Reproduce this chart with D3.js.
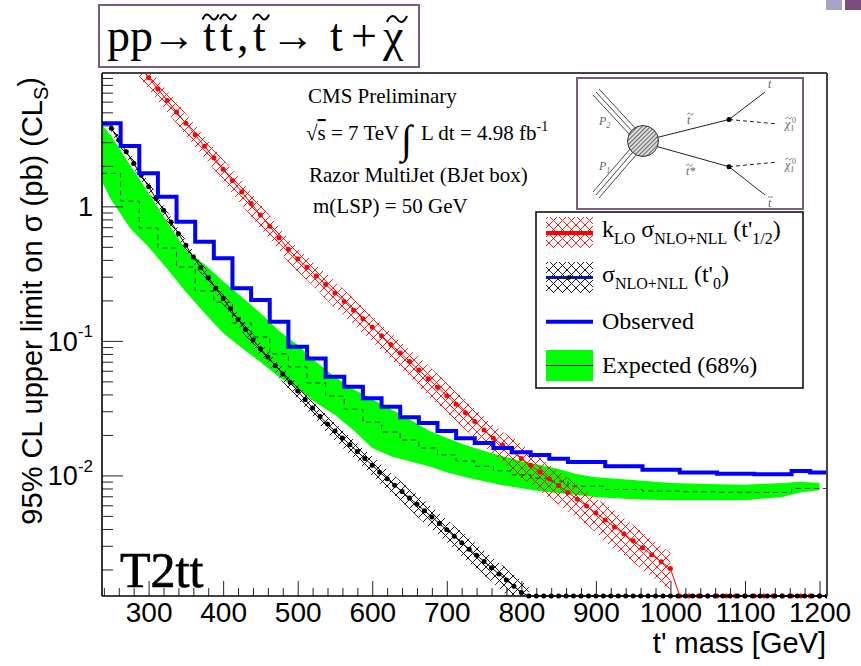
<!DOCTYPE html>
<html>
<head>
<meta charset="utf-8">
<script src="https://cdn.jsdelivr.net/npm/d3@7"></script>
<style>
body { margin: 0; background: #fff; }
svg { display: block; font-family: "Liberation Sans", Arial, sans-serif; }
.serif { font-family: "Liberation Serif", "Times New Roman", serif; }
</style>
</head>
<body>
<svg width="861" height="666"></svg>
<script>
// ---- data ----
// observed / expected limits are step histograms over these bin edges
var binEdges = [237.5, 262.5, 287.5, 312.5, 337.5, 362.5, 387.5, 412.5, 437.5, 462.5, 487.5,
  512.5, 537.5, 562.5, 587.5, 612.5, 637.5, 662.5, 687.5, 712.5, 737.5, 762.5, 787.5, 812.5,
  837.5, 862.5, 912.5, 962.5, 1012.5, 1062.5, 1112.5, 1162.5, 1187.5, 1212.5];
var observed = [4.14, 2.81, 1.76, 1.18, 0.768, 0.545, 0.411, 0.246, 0.201, 0.139, 0.0904,
  0.0741, 0.0541, 0.0456, 0.0374, 0.0324, 0.0271, 0.0245, 0.0214, 0.0189, 0.0174, 0.0160,
  0.0149, 0.0142, 0.0133, 0.0126, 0.0117, 0.0110, 0.0105, 0.0103, 0.0102, 0.0108, 0.0105];
var expected = [1.76, 1.095, 0.690, 0.490, 0.354, 0.235, 0.194, 0.136, 0.107, 0.080, 0.064,
  0.0486, 0.0389, 0.0311, 0.0249, 0.0210, 0.0183, 0.0160, 0.0142, 0.0128, 0.0117, 0.0108,
  0.0101, 0.00955, 0.00907, 0.00832, 0.00787, 0.00764, 0.00755, 0.00751, 0.00747, 0.0080, 0.0080];

// 68% expected band
var bandMass = [237.5, 250, 275, 300, 325, 350, 375, 400, 425, 450, 475, 500, 525, 550, 575,
  600, 625, 650, 675, 700, 725, 750, 775, 800, 825, 850, 875, 900, 950, 1000, 1050, 1100,
  1150, 1175, 1200];
var bandHigh = [4.02, 3.33, 2.03, 1.256, 0.766, 0.473, 0.372, 0.278, 0.2117, 0.1609, 0.1183,
  0.0931, 0.0696, 0.0538, 0.0438, 0.0369, 0.0311, 0.0262, 0.0217, 0.01894, 0.0168, 0.01516,
  0.01391, 0.01277, 0.01193, 0.01114, 0.01022, 0.00971, 0.00923, 0.00877, 0.00862, 0.00854,
  0.00877, 0.00899, 0.00877];
var bandLow = [1.516, 1.114, 0.690, 0.498, 0.342, 0.2306, 0.1609, 0.1143, 0.0884, 0.0696,
  0.0538, 0.0438, 0.0345, 0.0281, 0.0217, 0.01596, 0.01391, 0.01277, 0.01173, 0.01058,
  0.00971, 0.00907, 0.00847, 0.00804, 0.00764, 0.00739, 0.00714, 0.00690, 0.00666, 0.00655,
  0.00655, 0.00655, 0.00690, 0.00751, 0.00777];

// sigma NLO+NLL (t'_0), every 10 GeV; zero once off the table
var t0Mass = [250, 260, 270, 280, 290, 300, 310, 320, 330, 340, 350, 360, 370, 380, 390,
  400, 410, 420, 430, 440, 450, 460, 470, 480, 490, 500, 510, 520, 530, 540, 550, 560, 570,
  580, 590, 600, 610, 620, 630, 640, 650, 660, 670, 680, 690, 700, 710, 720, 730, 740, 750,
  760, 770, 780, 790, 800, 810, 820, 830, 840, 850, 860, 870, 880, 890, 900, 910, 920, 930,
  940, 950, 960, 970, 980, 990, 1000, 1010, 1020, 1030, 1040, 1050, 1060, 1070, 1080, 1090,
  1100, 1110, 1120, 1130, 1140, 1150, 1160, 1170, 1180, 1190, 1200, 1210];
var t0Xsec = [3.802, 3.112, 2.547, 2.084, 1.706, 1.396, 1.143, 0.9354, 0.7656, 0.6266,
  0.5129, 0.4198, 0.3516, 0.2944, 0.2466, 0.2065, 0.1730, 0.1449, 0.1213, 0.1016, 0.0876,
  0.0758, 0.0656, 0.0567, 0.0490, 0.0424, 0.0367, 0.0317, 0.0274, 0.0241, 0.0214, 0.0190,
  0.0169, 0.01505, 0.01338, 0.0119, 0.01058, 0.00944, 0.00846, 0.00759, 0.00680, 0.00610,
  0.00546, 0.00490, 0.00439, 0.00394, 0.00353, 0.00316, 0.00283, 0.00255, 0.00229, 0.00206,
  0.00185, 0.00167, 0.00150, 0.00135, 0.00121, 0, 0, 0, 0, 0, 0, 0, 0, 0, 0, 0, 0, 0, 0, 0,
  0, 0, 0, 0, 0, 0, 0, 0, 0, 0, 0, 0, 0, 0, 0, 0, 0, 0, 0, 0, 0, 0, 0, 0, 0, 0, 0];
var t0Err = [0.08, 0.08, 0.08, 0.08, 0.08, 0.09, 0.09, 0.09, 0.09, 0.09, 0.09, 0.10,
  0.10, 0.10, 0.10, 0.10, 0.10, 0.11, 0.11, 0.11, 0.11, 0.11, 0.11, 0.13, 0.13, 0.13, 0.13,
  0.13, 0.13, 0.15, 0.15, 0.15, 0.15, 0.15, 0.15, 0.17, 0.17, 0.17, 0.17, 0.17, 0.17, 0.19,
  0.19, 0.19, 0.19, 0.19, 0.19, 0.21, 0.21, 0.21, 0.21, 0.21, 0.21, 0.23, 0.23, 0.23, 0.23];

// k_LO sigma NLO+NLL (t'_1/2), every 12.5 GeV
var halfMass = [287.5, 300, 312.5, 325, 337.5, 350, 362.5, 375, 387.5, 400, 412.5, 425, 437.5,
  450, 462.5, 475, 487.5, 500, 512.5, 525, 537.5, 550, 562.5, 575, 587.5, 600, 612.5, 625,
  637.5, 650, 662.5, 675, 687.5, 700, 712.5, 725, 737.5, 750, 762.5, 775, 787.5, 800, 812.5,
  825, 837.5, 850, 862.5, 875, 887.5, 900, 912.5, 925, 937.5, 950, 962.5, 975, 987.5, 1000,
  1012.5, 1025, 1037.5, 1050, 1062.5, 1075, 1087.5, 1100, 1112.5, 1125, 1137.5, 1150, 1162.5,
  1175, 1187.5, 1200, 1212.5];
var halfXsec = [11.01, 9.05, 7.44, 6.12, 5.03, 4.14, 3.40, 2.797, 2.300, 1.891, 1.555, 1.278,
  1.051, 0.864, 0.7105, 0.5842, 0.4803, 0.4075, 0.3522, 0.3041, 0.2627, 0.2269, 0.1960,
  0.1692, 0.1462, 0.1263, 0.1091, 0.0942, 0.0814, 0.0703, 0.0607, 0.0524, 0.0453, 0.0391,
  0.0338, 0.0292, 0.0252, 0.0218, 0.0189, 0.01684, 0.01500, 0.01336, 0.01189, 0.01059,
  0.00943, 0.00840, 0.00748, 0.00666, 0.00593, 0.00526, 0.00467, 0.00414, 0.00368, 0.00327,
  0.00290, 0.00257, 0.00228, 0.00203, 0, 0, 0, 0, 0, 0, 0, 0, 0, 0, 0, 0, 0, 0, 0, 0, 0];
var halfErr = [0.18, 0.18, 0.18, 0.18, 0.18, 0.18, 0.18, 0.18, 0.18, 0.18, 0.20, 0.20, 0.20,
  0.20, 0.20, 0.20, 0.20, 0.20, 0.20, 0.20, 0.22, 0.22, 0.22, 0.22, 0.22, 0.22, 0.22, 0.22,
  0.22, 0.22, 0.25, 0.25, 0.25, 0.25, 0.25, 0.25, 0.25, 0.25, 0.25, 0.25, 0.28, 0.28, 0.28,
  0.28, 0.28, 0.28, 0.28, 0.28, 0.28, 0.28, 0.31, 0.31, 0.31, 0.31, 0.31, 0.31, 0.31, 0.31];

var xTicks = [300, 400, 500, 600, 700, 800, 900, 1000, 1100, 1200];
var yTicks = [0.01, 0.1, 1];
var yTickLabels = [["10", "-2"], ["10", "-1"], ["1", ""]];

// ---- layout ----
var svg = d3.select("svg");
var frame = { left: 102, right: 827, top: 73, bottom: 596 };

var x = d3.scaleLinear().domain([237.5, 1210]).range([frame.left, frame.right]);
var y = d3.scaleLog().domain([0.00127, 9.8]).range([frame.bottom, frame.top]);
// zero / off-scale-low values sit on the bottom of the frame, like ROOT draws them
function yv(v) { return v > y.domain()[0] ? y(v) : frame.bottom; }

var defs = svg.append("defs");
defs.append("clipPath").attr("id", "plotclip").append("rect")
  .attr("x", frame.left).attr("y", frame.top)
  .attr("width", frame.right - frame.left).attr("height", frame.bottom - frame.top + 3);

function crossHatch(id, color) {
  var p = defs.append("pattern").attr("id", id).attr("patternUnits", "userSpaceOnUse")
    .attr("width", 9).attr("height", 9);
  p.append("path").attr("d", "M0,0L9,9M9,0L0,9M-1,8L1,10M8,-1L10,1")
    .attr("stroke", color).attr("stroke-width", 0.9).attr("fill", "none");
}
crossHatch("hatchRed", "#ff0000");
crossHatch("hatchBlack", "#000000");
var blob = defs.append("pattern").attr("id", "blobHatch").attr("patternUnits", "userSpaceOnUse")
  .attr("width", 3).attr("height", 3).attr("patternTransform", "rotate(45)");
blob.append("rect").attr("width", 3).attr("height", 3).attr("fill", "#ddd");
blob.append("line").attr("x1", 0).attr("y1", 0).attr("x2", 0).attr("y2", 3)
  .attr("stroke", "#333").attr("stroke-width", 1.4);

// slide decoration
svg.append("rect").attr("x", 826).attr("y", 0).attr("width", 16).attr("height", 10).attr("fill", "#a8a4c8");
svg.append("rect").attr("x", 845).attr("y", 0).attr("width", 16).attr("height", 10).attr("fill", "#7d4c7f");

// ---- process title ----
svg.append("rect").attr("x", 99).attr("y", 5).attr("width", 320).attr("height", 62)
  .attr("fill", "#fff").attr("stroke", "#7b5a83").attr("stroke-width", 2);
var titleParts = [["pp", 107], ["\u2192", 152, 44], ["t", 203], ["t", 220], [",", 237], ["t", 253],
  ["\u2192", 271, 44], ["t", 330], ["+", 351], ["\u03c7", 383]];
titleParts.forEach(function (p) {
  var t = svg.append("text").attr("class", "serif").attr("x", p[1]).attr("y", 51)
    .attr("font-size", 46).attr("fill", "#000").text(p[0]);
  if (p[2]) t.attr("textLength", p[2]).attr("lengthAdjust", "spacingAndGlyphs");
});
function tilde(g, cx, cy, w, h, sw) {
  var x0 = cx - w / 2;
  g.append("path")
    .attr("d", "M" + x0 + "," + (cy + h / 2) +
      "C" + (x0 + w * 0.2) + "," + (cy - h) + " " + (x0 + w * 0.4) + "," + (cy - h / 2) + " " + cx + "," + cy +
      "S" + (x0 + w * 0.8) + "," + (cy + h) + " " + (x0 + w) + "," + (cy - h / 2))
    .attr("fill", "none").attr("stroke", "#000").attr("stroke-width", sw);
}
tilde(svg, 210.5, 17, 16, 5, 2);
tilde(svg, 228, 17, 16, 5, 2);
tilde(svg, 261, 17, 16, 5, 2);
tilde(svg, 397, 19, 20, 6, 2);

var plot = svg.append("g").attr("clip-path", "url(#plotclip)");

// expected band
var band = bandMass.map(function (m, i) { return { m: m, lo: bandLow[i], hi: bandHigh[i] }; });
plot.append("path").datum(band)
  .attr("fill", "#00ff00")
  .attr("d", d3.area().x(function (d) { return x(d.m); })
    .y0(function (d) { return y(d.lo); }).y1(function (d) { return y(d.hi); }));

function stepPoints(vals) {
  var pts = vals.map(function (v, i) { return [binEdges[i], v]; });
  pts.push([binEdges[vals.length], vals[vals.length - 1]]);
  return pts;
}
var stepLine = d3.line().curve(d3.curveStepAfter)
  .x(function (d) { return x(d[0]); }).y(function (d) { return y(d[1]); });

plot.append("path").datum(stepPoints(expected))
  .attr("fill", "none").attr("stroke", "#1d3b1d").attr("stroke-width", 1)
  .attr("stroke-dasharray", "5,4").attr("d", stepLine);

// theory curves
function drawTheory(masses, vals, errs, hatch, dotColor) {
  var pts = masses.map(function (m, i) { return { m: m, v: vals[i], e: errs[i] || 0 }; });
  var inBand = pts.filter(function (d) { return d.v > 0; });
  plot.append("path").datum(inBand)
    .attr("fill", "url(#" + hatch + ")")
    .attr("d", d3.area().x(function (d) { return x(d.m); })
      .y0(function (d) { return yv(d.v * (1 - d.e)); })
      .y1(function (d) { return yv(d.v * (1 + d.e)); }));
  plot.append("path").datum(pts)
    .attr("fill", "none").attr("stroke", dotColor).attr("stroke-width", 1)
    .attr("d", d3.line().x(function (d) { return x(d.m); }).y(function (d) { return yv(d.v); }));
  plot.append("g").selectAll("circle").data(pts).enter().append("circle")
    .attr("cx", function (d) { return x(d.m); })
    .attr("cy", function (d) { return yv(d.v); })
    .attr("r", 2.5).attr("fill", dotColor);
}
drawTheory(halfMass, halfXsec, halfErr, "hatchRed", "#ff0000");
drawTheory(t0Mass, t0Xsec, t0Err, "hatchBlack", "#000000");

// observed
plot.append("path").datum(stepPoints(observed))
  .attr("fill", "none").attr("stroke", "#0000ff").attr("stroke-width", 4)
  .attr("d", stepLine);

// ---- axes (ROOT style: ticks point into the frame) ----
var majorLen = 21, minorLen = 11;
var yMinor = [];
[0.001, 0.01, 0.1, 1].forEach(function (dec) {
  for (var k = 2; k <= 9; k++) {
    var v = dec * k;
    if (v >= y.domain()[0] && v <= y.domain()[1]) yMinor.push(v);
  }
});
svg.append("g").attr("transform", "translate(" + frame.left + ",0)")
  .call(d3.axisLeft(y).tickValues(yMinor).tickSizeInner(-minorLen).tickSizeOuter(0).tickFormat(""))
  .call(function (g) { g.select(".domain").remove(); g.selectAll("line").attr("stroke", "#222"); });
svg.append("g").attr("transform", "translate(" + frame.left + ",0)")
  .call(d3.axisLeft(y).tickValues(yTicks).tickSizeInner(-majorLen).tickSizeOuter(0).tickFormat(""))
  .call(function (g) { g.select(".domain").remove(); g.selectAll("line").attr("stroke", "#222"); });

var xMinor = d3.range(240, 1211, 20).filter(function (v) { return v % 100 !== 0; });
svg.append("g").attr("transform", "translate(0," + frame.bottom + ")")
  .call(d3.axisBottom(x).tickValues(xMinor).tickSizeInner(-8).tickSizeOuter(0).tickFormat(""))
  .call(function (g) { g.select(".domain").remove(); g.selectAll("line").attr("stroke", "#222"); });
svg.append("g").attr("transform", "translate(0," + frame.bottom + ")")
  .call(d3.axisBottom(x).tickValues(xTicks).tickSizeInner(-15).tickSizeOuter(0).tickPadding(6)
    .tickFormat(d3.format("d")))
  .call(function (g) {
    g.select(".domain").remove();
    g.selectAll("line").attr("stroke", "#222");
    g.selectAll("text").attr("font-size", 28).attr("font-family", "Liberation Sans, Arial, sans-serif")
      .attr("fill", "#000");
  });

// y tick labels
yTicks.forEach(function (v, i) {
  var t = svg.append("text").attr("x", 93).attr("y", y(v)).attr("dy", "0.36em")
    .attr("text-anchor", "end").attr("font-size", 27).attr("fill", "#000");
  t.append("tspan").text(yTickLabels[i][0]);
  if (yTickLabels[i][1]) {
    t.append("tspan").attr("font-size", 17).attr("dy", "-0.8em").text(yTickLabels[i][1]);
  }
});

// frame
svg.append("line").attr("x1", frame.left).attr("x2", frame.right).attr("y1", frame.top).attr("y2", frame.top)
  .attr("stroke", "#444").attr("stroke-width", 2);
svg.append("line").attr("x1", frame.right).attr("x2", frame.right).attr("y1", frame.top).attr("y2", frame.bottom)
  .attr("stroke", "#444").attr("stroke-width", 2);
svg.append("line").attr("x1", frame.left).attr("x2", frame.left).attr("y1", frame.top).attr("y2", frame.bottom)
  .attr("stroke", "#000").attr("stroke-width", 1.6);
svg.append("line").attr("x1", frame.left).attr("x2", frame.right).attr("y1", frame.bottom).attr("y2", frame.bottom)
  .attr("stroke", "#000").attr("stroke-width", 1.6);

// axis titles
svg.append("text").attr("x", 826).attr("y", 653).attr("text-anchor", "end")
  .attr("font-size", 29).attr("fill", "#000").text("t' mass [GeV]");
var yt = svg.append("text").attr("transform", "translate(42,77) rotate(-90)")
  .attr("text-anchor", "end").attr("font-size", 29).attr("fill", "#000");
yt.append("tspan").text("95% CL upper limit on \u03c3 (pb) (CL");
yt.append("tspan").attr("font-size", 20).attr("dy", "0.3em").text("S");
yt.append("tspan").attr("dy", "-0.3em").text(")");

// ---- annotations ----
function serifText(xp, yp, size, txt) {
  return svg.append("text").attr("class", "serif").attr("x", xp).attr("y", yp)
    .attr("font-size", size).attr("fill", "#000").text(txt);
}
serifText(308, 103, 21, "CMS Preliminary");
var rs = svg.append("text").attr("class", "serif").attr("x", 306).attr("y", 140)
  .attr("font-size", 21).attr("fill", "#000");
rs.append("tspan").text("\u221a");
rs.append("tspan").attr("text-decoration", "overline").text("s");
rs.append("tspan").text(" = 7 TeV");
serifText(401, 153, 40, "\u222b");
var lum = serifText(421, 140, 21, "L dt = 4.98 fb");
lum.append("tspan").attr("font-size", 14).attr("dy", -9).text("-1");
serifText(309, 182, 21, "Razor MultiJet (BJet box)");
serifText(313, 213, 21, "m(LSP) = 50 GeV");
serifText(120, 587, 50, "T2tt").attr("stroke", "#000").attr("stroke-width", 0.7);

// ---- Feynman diagram inset ----
var fd = svg.append("g");
fd.append("rect").attr("x", 577).attr("y", 78).attr("width", 226).attr("height", 131)
  .attr("fill", "#fff").attr("stroke", "#7b5a83").attr("stroke-width", 2);
[-3, 0, 3].forEach(function (o) {
  fd.append("line").attr("x1", 596 + o).attr("y1", 92 - o).attr("x2", 633 + o).attr("y2", 132 - o)
    .attr("stroke", "#333").attr("stroke-width", 0.9);
  fd.append("line").attr("x1", 596 + o).attr("y1", 195 + o).attr("x2", 633 + o).attr("y2", 152 + o)
    .attr("stroke", "#333").attr("stroke-width", 0.9);
});
fd.append("line").attr("x1", 655).attr("y1", 138).attr("x2", 729).attr("y2", 119.5).attr("stroke", "#222");
fd.append("line").attr("x1", 655).attr("y1", 146).attr("x2", 729).attr("y2", 166.7).attr("stroke", "#222");
fd.append("line").attr("x1", 729).attr("y1", 119.5).attr("x2", 765).attr("y2", 92).attr("stroke", "#222");
fd.append("line").attr("x1", 729).attr("y1", 166.7).attr("x2", 765).attr("y2", 195).attr("stroke", "#222");
fd.append("line").attr("x1", 729).attr("y1", 119.5).attr("x2", 778).attr("y2", 124)
  .attr("stroke", "#222").attr("stroke-dasharray", "4,3");
fd.append("line").attr("x1", 729).attr("y1", 166.7).attr("x2", 778).attr("y2", 162)
  .attr("stroke", "#222").attr("stroke-dasharray", "4,3");
fd.append("circle").attr("cx", 729).attr("cy", 119.5).attr("r", 2.5).attr("fill", "#000");
fd.append("circle").attr("cx", 729).attr("cy", 166.7).attr("r", 2.5).attr("fill", "#000");
fd.append("circle").attr("cx", 643).attr("cy", 141).attr("r", 15.5)
  .attr("fill", "url(#blobHatch)").attr("stroke", "#333").attr("stroke-width", 1);
function fdLabel(xp, yp, txt, opts) {
  opts = opts || {};
  var t = fd.append("text").attr("class", "serif").attr("x", xp).attr("y", yp)
    .attr("font-size", 12).attr("font-style", "italic").attr("fill", "#666").text(txt);
  if (opts.sub) t.append("tspan").attr("font-size", 8).attr("dy", 3).text(opts.sub);
  if (opts.sup) {
    fd.append("text").attr("class", "serif").attr("x", xp + 7).attr("y", yp - 5)
      .attr("font-size", 8).attr("fill", "#666").text(opts.sup);
  }
  if (opts.tilde) {
    var g = fd.append("g").attr("opacity", 0.6);
    tilde(g, xp + 3.5, yp - 10, 6, 2, 0.8);
  }
  if (opts.bar) {
    fd.append("line").attr("x1", xp).attr("x2", xp + 5).attr("y1", yp - 10).attr("y2", yp - 10)
      .attr("stroke", "#666").attr("stroke-width", 0.8);
  }
}
fdLabel(599, 125, "P", { sub: "2" });
fdLabel(599, 170, "P", { sub: "1" });
fdLabel(687, 124, "t", { tilde: true });
fdLabel(686, 175, "t*", { tilde: true });
fdLabel(768, 88, "t");
fdLabel(768, 207, "t", { bar: true });
fdLabel(785, 128, "\u03c7", { sup: "0", sub: "1", tilde: true });
fdLabel(785, 169, "\u03c7", { sup: "0", sub: "1", tilde: true });

// ---- legend ----
var lg = svg.append("g");
lg.append("rect").attr("x", 536).attr("y", 212).attr("width", 267).attr("height", 176)
  .attr("fill", "#fff").attr("stroke", "#000").attr("stroke-width", 1.5);
lg.append("rect").attr("x", 546).attr("y", 217).attr("width", 47).attr("height", 31).attr("fill", "url(#hatchRed)");
lg.append("line").attr("x1", 546).attr("x2", 593).attr("y1", 233).attr("y2", 233).attr("stroke", "#ff0000").attr("stroke-width", 4);
lg.append("rect").attr("x", 546).attr("y", 262).attr("width", 47).attr("height", 31).attr("fill", "url(#hatchBlack)");
lg.append("line").attr("x1", 546).attr("x2", 593).attr("y1", 277.5).attr("y2", 277.5).attr("stroke", "#0a1aa0").attr("stroke-width", 3);
lg.append("circle").attr("cx", 569).attr("cy", 277.5).attr("r", 2.3).attr("fill", "#000");
lg.append("line").attr("x1", 546).attr("x2", 593).attr("y1", 321.7).attr("y2", 321.7).attr("stroke", "#0000ff").attr("stroke-width", 4);
lg.append("rect").attr("x", 546).attr("y", 350).attr("width", 47).attr("height", 31).attr("fill", "#00ff00");
lg.append("line").attr("x1", 546).attr("x2", 593).attr("y1", 365.5).attr("y2", 365.5).attr("stroke", "#000").attr("stroke-width", 1);

function legendText(yp, parts) {
  var t = lg.append("text").attr("class", "serif").attr("x", 602).attr("y", yp)
    .attr("font-size", 24).attr("fill", "#000");
  var shift = 0;
  parts.forEach(function (p) {
    var want = p[1] ? 7 : 0;
    t.append("tspan").attr("dy", want - shift).attr("font-size", p[1] ? 16 : 24).text(p[0]);
    shift = want;
  });
}
legendText(237, [["k", 0], ["LO", 1], [" \u03c3", 0], ["NLO+NLL", 1], [" (t'", 0], ["1/2", 1], [")", 0]]);
legendText(282, [["\u03c3", 0], ["NLO+NLL", 1], [" (t'", 0], ["0", 1], [")", 0]]);
legendText(329, [["Observed", 0]]);
legendText(373, [["Expected (68%)", 0]]);
</script>
</body>
</html>
